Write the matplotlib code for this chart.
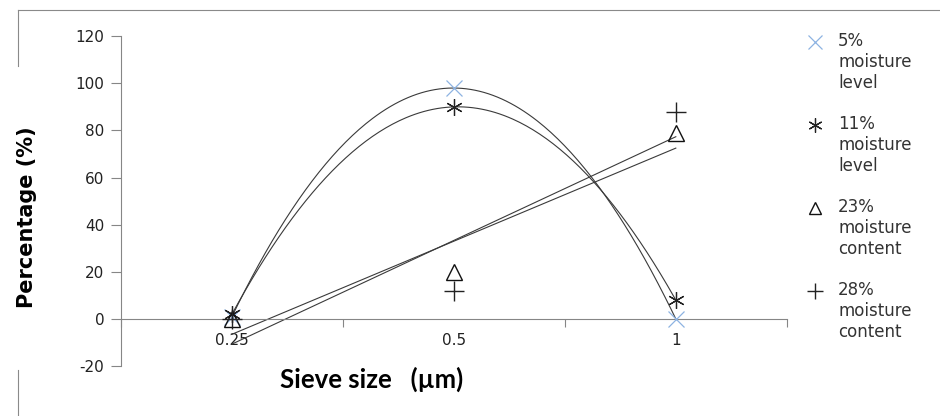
import matplotlib
matplotlib.use('Agg')

import numpy as np
import matplotlib.pyplot as plt
from matplotlib.lines import Line2D

# data
sieve_sizes = ['0.25', '0.5', '1']
moisture_5 = [1, 98, 0]
moisture_11 = [2, 90, 8]
moisture_23 = [0, 20, 79]
moisture_28 = [0, 12, 88]
legend_labels = ['5%\nmoisture\nlevel', '11%\nmoisture\nlevel',
                 '23%\nmoisture\ncontent', '28%\nmoisture\ncontent']

AXIS_GRAY = '#868686'
TREND = '#3a3a3a'
BLUE = '#8db3e2'

plt.rcParams['font.family'] = ['DejaVu Sans']
plt.rcParams['axes.unicode_minus'] = False


def trend(ax, x, y, order):
    coef = np.polyfit(x, y, order)
    xs = np.linspace(x[0], x[-1], 200)
    ax.plot(xs, np.polyval(coef, xs), color=TREND, lw=0.8, zorder=2)


def main():
    fig = plt.figure(figsize=(9.4, 4.16), dpi=100)
    ax = fig.add_axes([0.1287, 0.12, 0.7083, 0.793])

    x = np.arange(1, len(sieve_sizes) + 1)

    # trendlines: 2nd order polynomial for the low moisture series, linear for the others
    trend(ax, x, moisture_5, 2)
    trend(ax, x, moisture_11, 2)
    trend(ax, x, moisture_23, 1)
    trend(ax, x, moisture_28, 1)

    styles = [
        dict(marker='x', color=BLUE, ms=12, mew=0.9),
        dict(marker=(6, 2, 0), color='#222222', ms=12, mew=0.9),
        dict(marker='^', color='#111111', ms=11, mew=1.0, mfc='none'),
        dict(marker='+', color='#222222', ms=14, mew=1.0),
    ]
    series = [moisture_5, moisture_11, moisture_23, moisture_28]
    for ys, st in zip(series, styles):
        ax.plot(x, ys, ls='none', zorder=3, **st)

    ax.set_xlim(0.5, 3.5)
    ax.set_ylim(-20, 120)
    ax.set_yticks(np.arange(-20, 121, 20))

    # category boundaries get the tick marks, labels sit between them
    ax.set_xticks([0.5, 1.5, 2.5, 3.5])
    ax.set_xticklabels([])
    ax.set_xticks(x, minor=True)
    ax.set_xticklabels(sieve_sizes, minor=True)
    ax.tick_params(axis='x', which='major', direction='out', length=6,
                   color=AXIS_GRAY, width=0.8)
    ax.tick_params(axis='x', which='minor', length=0, pad=10,
                   labelsize=11, labelcolor='#222222')
    ax.tick_params(axis='y', direction='out', length=7, color=AXIS_GRAY,
                   width=0.8, labelsize=11, labelcolor='#222222', pad=5)

    for side in ['top', 'right']:
        ax.spines[side].set_visible(False)
    ax.spines['left'].set_color(AXIS_GRAY)
    ax.spines['left'].set_linewidth(0.8)
    ax.spines['bottom'].set_position(('data', 0))
    ax.spines['bottom'].set_color(AXIS_GRAY)
    ax.spines['bottom'].set_linewidth(0.8)

    fig.text(0.029, 0.478, 'Percentage (%)', rotation=90, ha='center',
             va='center', fontsize=15, fontweight='bold',
             family=['DejaVu Sans'])
    fig.text(0.395, 0.087, 'Sieve size   (\u00b5m)', ha='center', va='center',
             fontsize=18.5, fontweight='bold', family=['Lato', 'DejaVu Sans'])

    # legend: marker beside the first line of each three-line label
    for i, (lab, st) in enumerate(zip(legend_labels, styles)):
        ymark = 42 + i * 83
        st = dict(st)
        st['ms'] = st['ms'] * 0.85
        fig.add_artist(Line2D([815 / 940.0], [1 - ymark / 416.0], ls='none',
                              transform=fig.transFigure, **st))
        fig.text(838 / 940.0, 1 - (ymark - 10) / 416.0, lab, ha='left',
                 va='top', fontsize=12, color='#333333', linespacing=1.2,
                 transform=fig.transFigure)

    # chart area frame remnants
    fx = 17.5 / 940.0
    fy = 1 - 10 / 416.0
    fig.add_artist(Line2D([fx, 1.0], [fy, fy], color='#8a8a8a', lw=0.8,
                          transform=fig.transFigure))
    fig.add_artist(Line2D([fx, fx], [fy, 1 - 66 / 416.0], color='#8a8a8a',
                          lw=0.8, transform=fig.transFigure))
    fig.add_artist(Line2D([fx, fx], [1 - 370 / 416.0, 0], color='#8a8a8a',
                          lw=0.8, transform=fig.transFigure))

    fig.savefig('out.png', dpi=100)


if __name__ == '__main__':
    main()
